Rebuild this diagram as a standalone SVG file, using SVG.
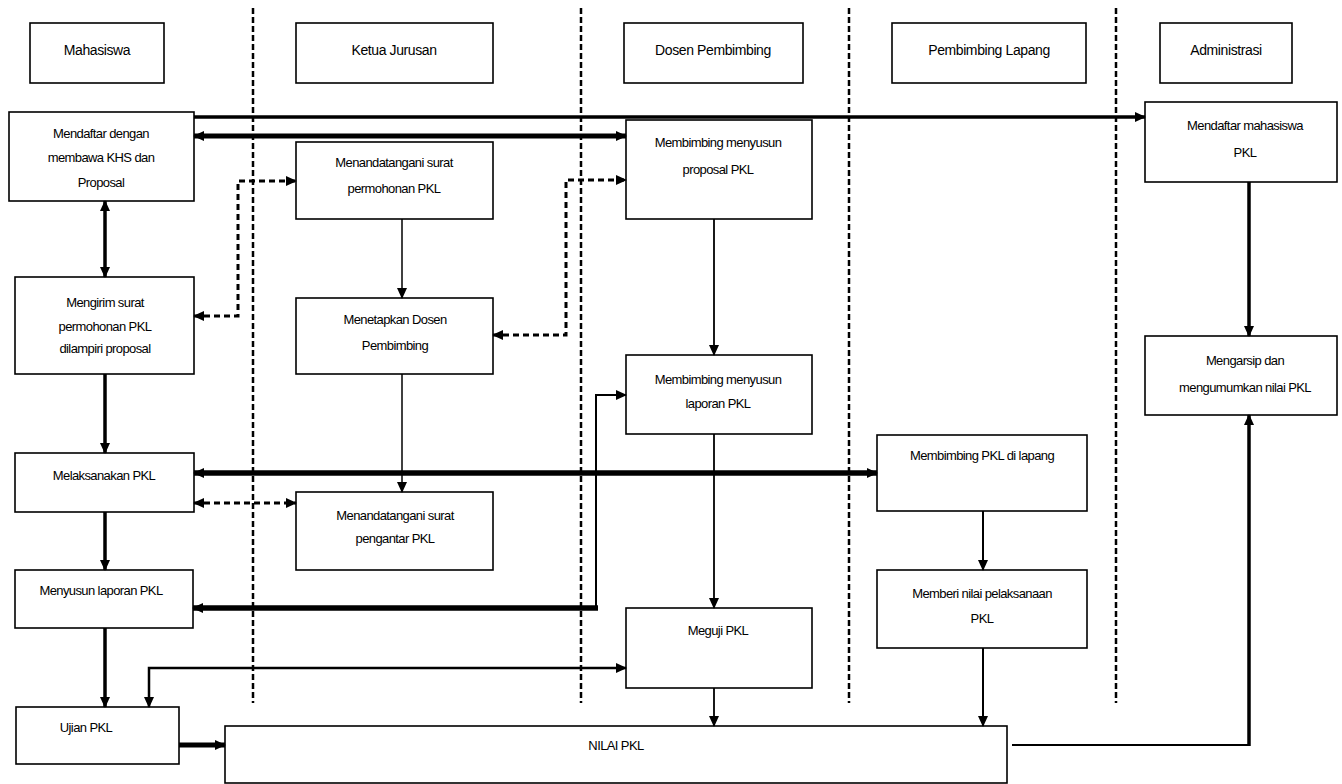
<svg xmlns="http://www.w3.org/2000/svg" width="1342" height="784" viewBox="0 0 1342 784">
<style>
.box{fill:#fff;stroke:#000;stroke-width:1.6}
.t{font-family:"Liberation Sans",Arial,sans-serif;font-size:13px;fill:#000;text-anchor:middle;letter-spacing:-0.6px}
.h{font-size:14px;letter-spacing:-0.4px}
.lane{stroke:#000;stroke-width:2.5;stroke-dasharray:6 3;fill:none}
.c{fill:none;stroke:#000}
.dash{stroke-dasharray:6 4}
</style>
<defs>
<marker id="a" markerUnits="userSpaceOnUse" markerWidth="11" markerHeight="11" refX="10" refY="5.5" orient="auto-start-reverse" viewBox="0 0 11 11"><path d="M0,0.5 L11,5.5 L0,10.5 z" fill="#000"/></marker>
</defs>
<rect width="1342" height="784" fill="#fff"/>
<g id="lanes">
<path class="lane" d="M253,8 V703"/>
<path class="lane" d="M581,8 V703"/>
<path class="lane" d="M849,8 V703"/>
<path class="lane" d="M1116,8 V703"/>
</g>
<g id="h-mahasiswa"><rect class="box" x="30" y="23" width="134" height="60"/><text class="t h" x="97" y="55">Mahasiswa</text></g>
<g id="h-kajur"><rect class="box" x="296" y="23" width="197" height="60"/><text class="t h" x="394" y="55">Ketua Jurusan</text></g>
<g id="h-dosen"><rect class="box" x="624" y="23" width="179" height="60"/><text class="t h" x="713" y="55">Dosen Pembimbing</text></g>
<g id="h-lapang"><rect class="box" x="892" y="23" width="194" height="60"/><text class="t h" x="989" y="55">Pembimbing Lapang</text></g>
<g id="h-admin"><rect class="box" x="1160" y="23" width="132" height="60"/><text class="t h" x="1226" y="55">Administrasi</text></g>

<g id="n-mendaftar"><rect class="box" x="9" y="112" width="185" height="89"/><text class="t" x="101" y="138">Mendaftar dengan</text><text class="t" x="101" y="162">membawa KHS dan</text><text class="t" x="101" y="187">Proposal</text></g>
<g id="n-ttd-permohonan"><rect class="box" x="296" y="142" width="197" height="77"/><text class="t" x="394" y="167">Menandatangani surat</text><text class="t" x="394" y="193">permohonan PKL</text></g>
<g id="n-mengirim"><rect class="box" x="15" y="277" width="179" height="97"/><text class="t" x="105" y="307">Mengirim surat</text><text class="t" x="105" y="331">permohonan PKL</text><text class="t" x="105" y="353">dilampiri proposal</text></g>
<g id="n-menetapkan"><rect class="box" x="296" y="298" width="197" height="76"/><text class="t" x="395" y="324">Menetapkan Dosen</text><text class="t" x="395" y="350">Pembimbing</text></g>
<g id="n-melaksanakan"><rect class="box" x="15" y="453" width="179" height="59"/><text class="t" x="104" y="480">Melaksanakan PKL</text></g>
<g id="n-ttd-pengantar"><rect class="box" x="296" y="492" width="197" height="78"/><text class="t" x="395" y="520">Menandatangani surat</text><text class="t" x="395" y="543">pengantar PKL</text></g>
<g id="n-menyusun"><rect class="box" x="15" y="570" width="178" height="58"/><text class="t" x="101" y="595">Menyusun laporan PKL</text></g>
<g id="n-ujian"><rect class="box" x="16" y="707" width="163" height="57"/><text class="t" x="86" y="732">Ujian PKL</text></g>
<g id="n-nilai"><rect class="box" x="225" y="726" width="782" height="57"/><text class="t" x="616" y="750">NILAI PKL</text></g>
<g id="n-bimbing-proposal"><rect class="box" x="626" y="120" width="186" height="99"/><text class="t" x="718" y="147">Membimbing menyusun</text><text class="t" x="718" y="174">proposal PKL</text></g>
<g id="n-bimbing-laporan"><rect class="box" x="626" y="355" width="186" height="79"/><text class="t" x="718" y="384">Membimbing menyusun</text><text class="t" x="718" y="408">laporan PKL</text></g>
<g id="n-meguji"><rect class="box" x="626" y="608" width="186" height="80"/><text class="t" x="718" y="635">Meguji PKL</text></g>
<g id="n-bimbing-lapang"><rect class="box" x="877" y="435" width="210" height="76"/><text class="t" x="982" y="460">Membimbing PKL di lapang</text></g>
<g id="n-memberi-nilai"><rect class="box" x="877" y="570" width="210" height="78"/><text class="t" x="982" y="598">Memberi nilai pelaksanaan</text><text class="t" x="982" y="623">PKL</text></g>
<g id="n-mendaftar-mhs"><rect class="box" x="1145" y="102" width="192" height="80"/><text class="t" x="1245" y="130">Mendaftar mahasiswa</text><text class="t" x="1245" y="157">PKL</text></g>
<g id="n-mengarsip"><rect class="box" x="1145" y="336" width="192" height="79"/><text class="t" x="1245" y="365">Mengarsip dan</text><text class="t" x="1245" y="392">mengumumkan nilai PKL</text></g>

<g id="connectors">
<path class="c" stroke-width="3.5" d="M194,117 H1145" marker-end="url(#a)"/>
<path class="c" stroke-width="5" d="M194,136 H626" marker-start="url(#a)" marker-end="url(#a)"/>
<path class="c" stroke-width="3.5" d="M105,201 V277" marker-start="url(#a)" marker-end="url(#a)"/>
<path class="c dash" stroke-width="3" d="M194,316 H238 V181 H296" marker-start="url(#a)" marker-end="url(#a)"/>
<path class="c" stroke-width="1.5" d="M402,219 V298" marker-end="url(#a)"/>
<path class="c dash" stroke-width="3" d="M493,335 H566 V180 H626" marker-start="url(#a)" marker-end="url(#a)"/>
<path class="c" stroke-width="1.8" d="M714,219 V355" marker-end="url(#a)"/>
<path class="c" stroke-width="3.5" d="M105,374 V453" marker-end="url(#a)"/>
<path class="c" stroke-width="1.5" d="M402,374 V492" marker-end="url(#a)"/>
<path class="c" stroke-width="5.5" d="M194,473 H877" marker-start="url(#a)" marker-end="url(#a)"/>
<path class="c dash" stroke-width="3" d="M194,503 H296" marker-start="url(#a)" marker-end="url(#a)"/>
<path class="c" stroke-width="1.8" d="M714,434 V608" marker-end="url(#a)"/>
<path class="c" stroke-width="3.5" d="M105,512 V570" marker-end="url(#a)"/>
<path class="c" stroke-width="2" d="M596,608 V395 H626" marker-end="url(#a)"/>
<path class="c" stroke-width="5.5" d="M598,608 H193" marker-end="url(#a)"/>
<path class="c" stroke-width="2" d="M983,511 V570" marker-end="url(#a)"/>
<path class="c" stroke-width="3.5" d="M105,628 V707" marker-end="url(#a)"/>
<path class="c" stroke-width="2.5" d="M626,668 H149 V707" marker-start="url(#a)" marker-end="url(#a)"/>
<path class="c" stroke-width="5" d="M179,745 H225" marker-end="url(#a)"/>
<path class="c" stroke-width="1.8" d="M714,688 V726" marker-end="url(#a)"/>
<path class="c" stroke-width="2" d="M983,648 V726" marker-end="url(#a)"/>
<path class="c" stroke-width="2" d="M1012,745 H1250"/>
<path class="c" stroke-width="3.5" d="M1249,746 V415" marker-end="url(#a)"/>
<path class="c" stroke-width="3.5" d="M1249,182 V336" marker-end="url(#a)"/>
</g>
</svg>
